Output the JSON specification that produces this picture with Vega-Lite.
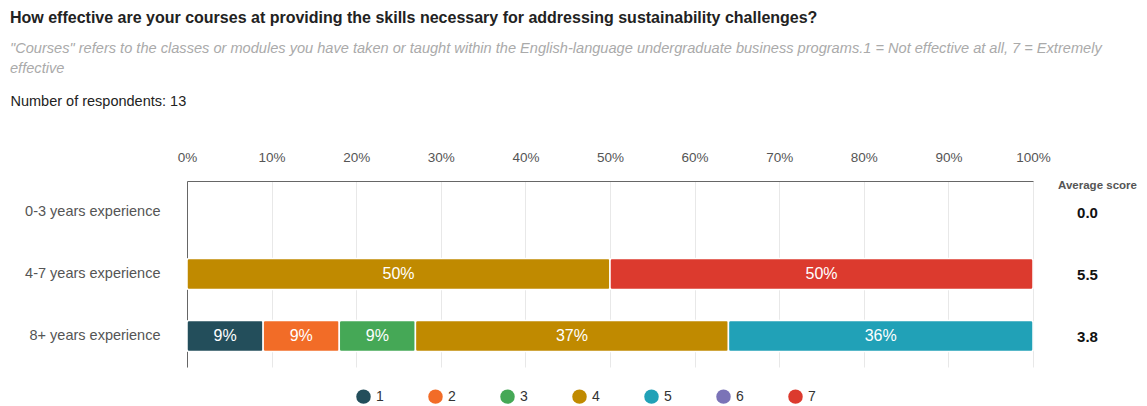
{
  "$schema": "https://vega.github.io/schema/vega-lite/v6.json",
  "background": "white",
  "padding": {"left": 10, "top": 10, "right": 5, "bottom": 5},
  "width": 846,
  "height": 186,
  "title": {
    "text": "How effective are your courses at providing the skills necessary for addressing sustainability challenges?",
    "subtitle": ["\"Courses\" refers to the classes or modules you have taken or taught within the English-language undergraduate business programs.1 = Not effective at all, 7 = Extremely", "effective"],
    "anchor": "start",
    "frame": "bounds",
    "font": "Liberation Sans",
    "fontSize": 16,
    "fontWeight": "bold",
    "color": "#222222",
    "subtitleFont": "Liberation Sans",
    "subtitleFontSize": 14.6,
    "subtitleFontStyle": "italic",
    "subtitleColor": "#aaaaaa",
    "subtitleLineHeight": 20,
    "subtitlePadding": 15,
    "offset": 17
  },
  "datasets": {
    "bars": [
      {"group": "4-7 years experience", "rating": 4, "pct": 0.5},
      {"group": "4-7 years experience", "rating": 7, "pct": 0.5},
      {"group": "8+ years experience", "rating": 1, "pct": 0.09},
      {"group": "8+ years experience", "rating": 2, "pct": 0.09},
      {"group": "8+ years experience", "rating": 3, "pct": 0.09},
      {"group": "8+ years experience", "rating": 4, "pct": 0.37},
      {"group": "8+ years experience", "rating": 5, "pct": 0.36}
    ],
    "avg": [
      {"group": "0-3 years experience", "avg": "0.0"},
      {"group": "4-7 years experience", "avg": "5.5"},
      {"group": "8+ years experience", "avg": "3.8"}
    ]
  },
  "layer": [
    {
      "data": {"name": "bars"},
      "transform": [
        {"stack": "pct", "groupby": ["group"], "sort": [{"field": "rating", "order": "ascending"}], "as": ["x0", "x1"]}
      ],
      "encoding": {
        "y": {
          "field": "group",
          "type": "nominal",
          "scale": {"domain": ["0-3 years experience", "4-7 years experience", "8+ years experience"], "paddingInner": 0.5, "paddingOuter": 0.25},
          "axis": {
            "orient": "left",
            "title": null,
            "labelFontSize": 14.5,
            "labelColor": "#555555",
            "labelPadding": 27,
            "ticks": false,
            "tickSize": 0,
            "domain": true,
            "domainColor": "#666666",
            "minExtent": 177,
            "grid": false
          }
        }
      },
      "layer": [
        {
          "mark": {"type": "bar", "stroke": "white", "strokeWidth": 1.5, "cornerRadius": 2},
          "encoding": {
            "x": {
              "field": "x0",
              "type": "quantitative",
              "scale": {"domain": [0, 1], "nice": false},
              "axis": {
                "orient": "top",
                "format": ".0%",
                "values": [0, 0.1, 0.2, 0.3, 0.4, 0.5, 0.6, 0.7, 0.8, 0.9, 1],
                "labelFontSize": 13.5,
                "labelColor": "#555555",
                "labelPadding": 17,
                "labelFlush": false,
                "ticks": false,
                "tickSize": 0,
                "domain": true,
                "domainColor": "#666666",
                "grid": true,
                "gridColor": "#e8e8e8",
                "title": "Number of respondents: 13",
                "titleX": -177,
                "titleY": -76,
                "titleAlign": "left",
                "titleBaseline": "alphabetic",
                "titleFontSize": 14.5,
                "titleFontWeight": "normal",
                "titleColor": "#222222"
              }
            },
            "x2": {"field": "x1"},
            "color": {
              "field": "rating",
              "type": "nominal",
              "scale": {"domain": [1, 2, 3, 4, 5, 6, 7], "range": ["#234e5b", "#f26c27", "#45a856", "#c08a00", "#21a1b7", "#7b73b7", "#dc3a2e"]},
              "legend": {
                "orient": "none",
                "legendX": 169,
                "legendY": 208,
                "direction": "horizontal",
                "title": null,
                "symbolType": "circle",
                "symbolSize": 210,
                "symbolStrokeWidth": 0,
                "symbolOpacity": 1,
                "labelFontSize": 14,
                "labelColor": "#333333",
                "labelOffset": 5,
                "columnPadding": 44
              }
            }
          }
        },
        {
          "transform": [
            {"fold": ["x0", "x1"], "as": ["edge", "xpos"]},
            {"aggregate": [{"op": "mean", "field": "xpos", "as": "xmid"}], "groupby": ["group", "rating", "pct"]}
          ],
          "mark": {"type": "text", "color": "white", "fontSize": 16, "align": "center", "baseline": "middle"},
          "encoding": {
            "x": {"field": "xmid", "type": "quantitative"},
            "text": {"field": "pct", "type": "quantitative", "format": ".0%"}
          }
        }
      ]
    },
    {
      "data": {"name": "avg"},
      "mark": {"type": "text", "opacity": 0},
      "encoding": {
        "y": {
          "field": "avg",
          "type": "nominal",
          "sort": null,
          "scale": {"paddingInner": 0.5, "paddingOuter": 0.25},
          "axis": {
            "orient": "right",
            "title": "Average score",
            "titleAngle": 0,
            "titleX": 64,
            "titleY": 4,
            "titleAlign": "center",
            "titleBaseline": "middle",
            "titleFontSize": 11.5,
            "titleFontWeight": "bold",
            "titleColor": "#555555",
            "labelFontSize": 15,
            "labelFontWeight": "bold",
            "labelColor": "#111111",
            "labelAlign": "center",
            "labelPadding": 54,
            "ticks": false,
            "tickSize": 0,
            "domain": false,
            "grid": false
          }
        },
        "text": {"field": "avg"}
      }
    }
  ],
  "resolve": {"scale": {"y": "independent"}, "axis": {"y": "independent"}},
  "config": {"view": {"stroke": null}, "font": "Liberation Sans"}
}
